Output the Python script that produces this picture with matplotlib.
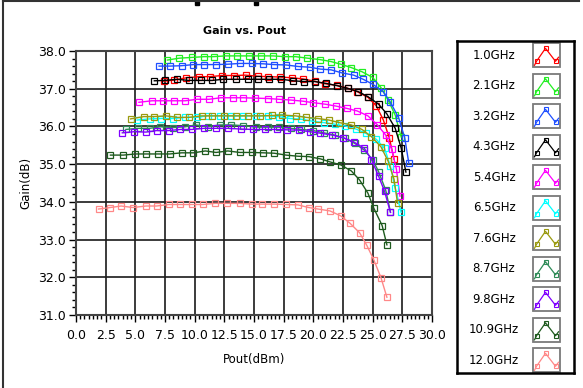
import matplotlib
matplotlib.use("Agg")
import matplotlib.pyplot as plt
from matplotlib.ticker import MultipleLocator, AutoMinorLocator
from matplotlib.patches import Rectangle
from matplotlib.lines import Line2D

# ---- data ----
freqs = ['1.0GHz', '2.1GHz', '3.2GHz', '4.3GHz', '5.4GHz', '6.5GHz',
         '7.6GHz', '8.7GHz', '9.8GHz', '10.9GHz', '12.0GHz']
colors = ['#ff0000', '#22ee22', '#1f4fff', '#000000', '#ff00ff', '#00ffff',
          '#9a9a10', '#2e8b57', '#8000ff', '#1e5a1e', '#ff8888']

pout_1g0 = [7.4, 8.3, 9.3, 10.4, 11.3, 12.3, 13.3, 14.3, 15.3, 16.2, 17.2, 18.2, 19.1, 20.1,
            21.0, 22.0, 22.9, 23.7, 24.6, 25.3, 25.9, 26.4, 26.8]
gain_1g0 = [37.20, 37.23, 37.29, 37.32, 37.32, 37.35, 37.35, 37.36, 37.33, 37.32, 37.31, 37.29,
            37.26, 37.20, 37.13, 37.09, 37.01, 36.92, 36.77, 36.55, 36.17, 35.70, 35.13]

pout_2g1 = [7.7, 8.7, 9.8, 10.8, 11.6, 12.6, 13.6, 14.6, 15.6, 16.6, 17.6, 18.5, 19.5, 20.6,
            21.5, 22.3, 23.2, 24.1, 25.0, 25.7, 26.3, 26.9, 27.4]
gain_2g1 = [37.76, 37.81, 37.83, 37.85, 37.85, 37.87, 37.87, 37.87, 37.87, 37.87, 37.85, 37.85,
            37.81, 37.77, 37.72, 37.65, 37.56, 37.45, 37.30, 37.03, 36.70, 36.30, 35.72]

pout_3g2 = [7.0, 7.9, 8.9, 9.9, 10.8, 11.8, 12.8, 13.8, 14.8, 15.8, 16.7, 17.7, 18.7, 19.7,
            20.6, 21.5, 22.4, 23.4, 24.2, 25.0, 25.9, 26.5, 27.2, 27.7, 28.05]
gain_3g2 = [37.60, 37.60, 37.61, 37.64, 37.64, 37.64, 37.65, 37.67, 37.67, 37.66, 37.64, 37.63,
            37.59, 37.57, 37.52, 37.50, 37.42, 37.36, 37.25, 37.12, 36.92, 36.64, 36.22, 35.70, 35.02]

pout_4g3 = [6.6, 7.5, 8.5, 9.5, 10.5, 11.5, 12.4, 13.5, 14.5, 15.3, 16.3, 17.3, 18.3, 19.2,
            20.1, 21.1, 22.0, 22.9, 23.8, 24.6, 25.5, 26.2, 26.9, 27.4, 27.8]
gain_4g3 = [37.21, 37.22, 37.25, 37.22, 37.22, 37.22, 37.25, 37.25, 37.25, 37.25, 37.25, 37.25,
            37.21, 37.19, 37.19, 37.14, 37.08, 37.01, 36.92, 36.79, 36.59, 36.33, 35.95, 35.43, 34.79]

pout_5g4 = [5.3, 6.4, 7.3, 8.3, 9.2, 10.2, 11.2, 12.2, 13.2, 14.1, 15.1, 16.2, 17.1, 18.1,
            19.1, 20.0, 21.0, 21.9, 22.8, 23.7, 24.6, 25.4, 26.1, 26.6, 27.0, 27.3]
gain_5g4 = [36.64, 36.68, 36.68, 36.68, 36.68, 36.72, 36.72, 36.76, 36.76, 36.76, 36.75, 36.74,
            36.72, 36.70, 36.67, 36.63, 36.59, 36.54, 36.48, 36.41, 36.28, 36.04, 35.77, 35.40,
            34.87, 34.15]

pout_6g5 = [5.15, 6.2, 7.2, 8.2, 9.2, 10.2, 11.1, 12.1, 13.1, 14.1, 15.2, 16.2, 17.1, 18.0,
            19.0, 19.9, 20.9, 21.8, 22.7, 23.6, 24.4, 25.3, 26.0, 26.5, 26.9, 27.4]
gain_6g5 = [36.17, 36.20, 36.21, 36.21, 36.24, 36.24, 36.28, 36.28, 36.28, 36.28, 36.28, 36.28,
            36.26, 36.21, 36.19, 36.14, 36.10, 36.06, 36.01, 35.93, 35.82, 35.66, 35.42, 34.94,
            34.36, 33.72]

pout_7g6 = [4.6, 5.7, 6.6, 7.6, 8.5, 9.5, 10.6, 11.5, 12.5, 13.5, 14.5, 15.5, 16.5, 17.4,
            18.5, 19.4, 20.4, 21.3, 22.2, 23.2, 24.1, 24.9, 25.7, 26.3, 26.8, 27.1]
gain_7g6 = [36.20, 36.26, 36.26, 36.28, 36.24, 36.24, 36.28, 36.28, 36.28, 36.28, 36.28, 36.28,
            36.29, 36.30, 36.28, 36.24, 36.21, 36.17, 36.10, 36.04, 35.92, 35.73, 35.46, 35.08,
            34.60, 33.96]

pout_8g7 = [4.2, 5.2, 6.2, 7.1, 8.2, 9.2, 10.1, 11.1, 12.1, 13.1, 14.1, 15.2, 16.2, 17.1,
            18.1, 19.0, 20.0, 20.9, 21.8, 22.7, 23.5, 24.3, 25.0, 25.5, 26.1, 26.5]
gain_8g7 = [35.92, 35.95, 35.95, 35.99, 35.97, 35.99, 36.04, 35.99, 36.04, 36.04, 36.02, 35.98,
            35.98, 35.98, 35.95, 35.92, 35.89, 35.83, 35.77, 35.68, 35.55, 35.37, 35.12, 34.80,
            34.31, 33.73]

pout_9g8 = [3.9, 4.9, 5.9, 6.8, 7.8, 8.8, 9.8, 10.8, 11.8, 12.8, 13.9, 14.9, 15.9, 16.9,
            17.8, 18.8, 19.7, 20.6, 21.6, 22.5, 23.4, 24.3, 24.9, 25.5, 26.0, 26.5]
gain_9g8 = [35.83, 35.86, 35.85, 35.89, 35.89, 35.92, 35.92, 35.95, 35.95, 35.95, 35.93, 35.92,
            35.92, 35.92, 35.91, 35.90, 35.86, 35.82, 35.77, 35.70, 35.59, 35.42, 35.12, 34.68,
            34.28, 33.72]

pout_10g9 = [2.9, 4.0, 5.0, 5.9, 6.9, 7.9, 8.9, 9.9, 10.9, 11.8, 12.8, 13.8, 14.85, 15.8,
             16.7, 17.7, 18.7, 19.6, 20.6, 21.4, 22.3, 23.2, 23.9, 24.6, 25.1, 25.8, 26.2]
gain_10g9 = [35.24, 35.24, 35.27, 35.27, 35.27, 35.27, 35.30, 35.30, 35.35, 35.31, 35.35, 35.31,
             35.31, 35.30, 35.29, 35.24, 35.21, 35.20, 35.14, 35.06, 34.98, 34.82, 34.58, 34.23,
             33.83, 33.37, 32.86]

pout_12g0 = [1.9, 2.9, 3.8, 4.8, 5.9, 6.8, 7.8, 8.8, 9.8, 10.7, 11.7, 12.7, 13.8, 14.8,
             15.7, 16.7, 17.7, 18.7, 19.6, 20.4, 21.4, 22.3, 23.1, 23.9, 24.5, 25.1, 25.7, 26.2]
gain_12g0 = [33.81, 33.85, 33.89, 33.85, 33.89, 33.89, 33.93, 33.93, 33.93, 33.93, 33.96, 33.96,
             33.96, 33.94, 33.94, 33.94, 33.93, 33.92, 33.85, 33.81, 33.76, 33.63, 33.43, 33.18,
             32.85, 32.46, 31.99, 31.47]

pouts = [pout_1g0, pout_2g1, pout_3g2, pout_4g3, pout_5g4, pout_6g5,
         pout_7g6, pout_8g7, pout_9g8, pout_10g9, pout_12g0]
gains = [gain_1g0, gain_2g1, gain_3g2, gain_4g3, gain_5g4, gain_6g5,
         gain_7g6, gain_8g7, gain_9g8, gain_10g9, gain_12g0]

W, H = 583, 388
fig = plt.figure(figsize=(W / 100, H / 100), dpi=100)

# outer frame of the window
fig.add_artist(Line2D([3 / W, 3 / W], [0, 1 - 1 / H], transform=fig.transFigure, color='#333333', lw=1.5))
fig.add_artist(Line2D([3 / W, 579 / W], [1 - 1 / H, 1 - 1 / H], transform=fig.transFigure, color='#333333', lw=1.5))
for xm in (197, 256):
    fig.add_artist(Rectangle((xm / W - 2 / W, 1 - 5 / H), 4 / W, 5 / H, transform=fig.transFigure,
                             color='black'))

ax = fig.add_axes([76 / W, (H - 315) / H, (432 - 76) / W, (315 - 51) / H])

for px, gy, c in zip(pouts, gains, colors):
    ax.plot(px, gy, color=c, lw=1.0, marker='s', markersize=4.3, markerfacecolor='none',
            markeredgecolor=c, markeredgewidth=0.9)

ax.set_xlim(0, 30)
ax.set_ylim(31, 38)
ax.xaxis.set_major_locator(MultipleLocator(2.5))
ax.xaxis.set_minor_locator(AutoMinorLocator(7))
ax.yaxis.set_major_locator(MultipleLocator(1.0))
ax.yaxis.set_minor_locator(AutoMinorLocator(5))
ax.xaxis.set_major_formatter(plt.FormatStrFormatter('%.1f'))
ax.yaxis.set_major_formatter(plt.FormatStrFormatter('%.1f'))
ax.tick_params(which='major', direction='out', length=5, width=1, labelsize=9, pad=2)
ax.tick_params(axis='x', which='major', pad=5)
ax.tick_params(which='minor', direction='out', length=3, width=1)
ax.grid(True, which='major', color='#1a1a1a', lw=1.2)
ax.set_axisbelow(True)
for s in ax.spines.values():
    s.set_color('#444444')
    s.set_linewidth(1.5)

ax.set_title('Gain vs. Pout', fontsize=8, fontweight='bold', pad=12)
ax.title.set_x(0.472)
ax.set_xlabel('Pout(dBm)', fontsize=8.5, labelpad=8)
ax.set_ylabel('Gain(dB)', fontsize=8.5, labelpad=4)

# legend panel, laid out in pixel units
lg = fig.add_axes([457 / W, (H - 373) / H, (574 - 457) / W, (373 - 41) / H])
lg.set_xlim(0, 117)
lg.set_ylim(332, 0)
lg.set_xticks([])
lg.set_yticks([])
for s in lg.spines.values():
    s.set_linewidth(1.8)
    s.set_color('black')

for i, (name, c) in enumerate(zip(freqs, colors)):
    yc = 14.3 + i * 30.5
    lg.text(37, yc, name, ha='center', va='center', fontsize=8.5)
    lg.add_patch(Rectangle((76, yc - 12), 27, 24, fill=False, edgecolor='#7a7a7a', lw=1.3))
    ix = [77.5, 79.5, 88.5, 98.5, 101.5]
    iy = [yc + 10, yc + 6, yc - 7, yc + 6, yc + 2]
    lg.plot(ix, iy, color=c, lw=0.9)
    lg.plot([ix[1], ix[2], ix[3]], [iy[1], iy[2], iy[3]], ls='none', marker='s', markersize=2.8,
            markerfacecolor='none', markeredgecolor=c, markeredgewidth=0.8)

fig.savefig('out.png', dpi=100)
